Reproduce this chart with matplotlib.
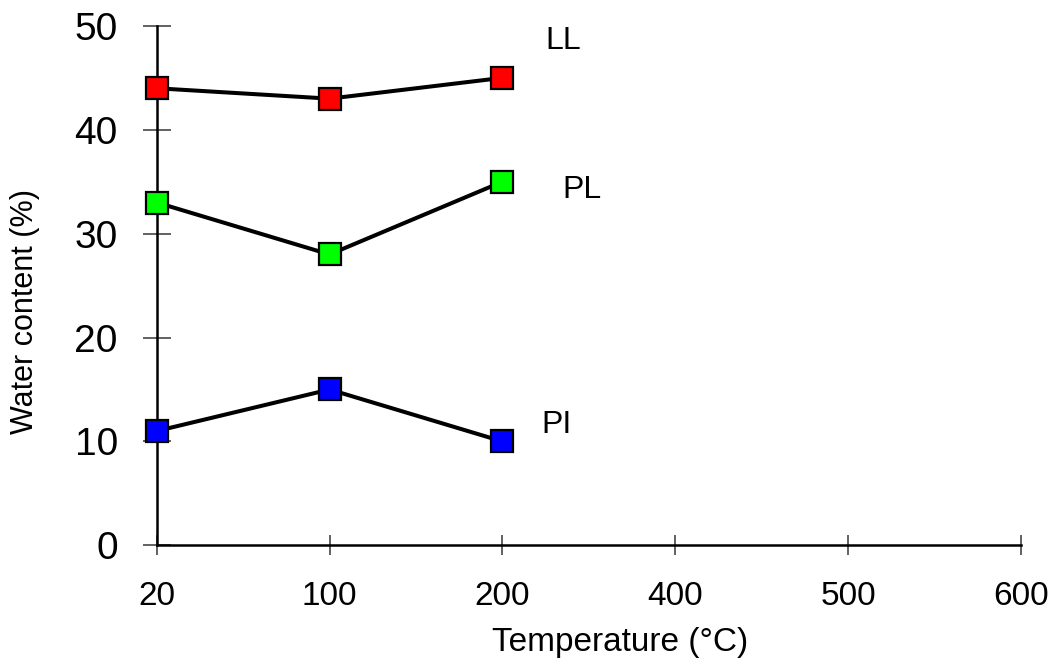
import matplotlib

matplotlib.use("Agg")

import matplotlib.pyplot as plt

plt.rcParams["font.family"] = ["Liberation Sans", "DejaVu Sans"]

temperatures = ["20", "100", "200", "400", "500", "600"]
measured = ["20", "100", "200"]
liquid_limit = [44, 43, 45]
plastic_limit = [33, 28, 35]
plasticity_index = [11, 15, 10]

series = [
    ("LL", liquid_limit, "#ff0000", (2.35, 48.55)),
    ("PL", plastic_limit, "#00ff00", (2.46, 34.2)),
    ("PI", plasticity_index, "#0000ff", (2.315, 11.56)),
]

fig = plt.figure(figsize=(10.59, 6.65), dpi=100)
ax = fig.add_axes([0.148, 0.180, 0.816, 0.781])

xpos = [temperatures.index(t) for t in measured]
for name, values, color, (tx, ty) in series:
    ax.plot(
        xpos,
        values,
        color="black",
        linewidth=2.9,
        marker="s",
        markersize=16,
        markerfacecolor=color,
        markeredgecolor="black",
        markeredgewidth=1.6,
        clip_on=False,
        zorder=3,
    )
    ax.text(tx, ty, name, fontsize=23, ha="center", va="center")

ax.set_xlim(0, len(temperatures) - 1)
ax.set_ylim(0, 50)
ax.set_xticks(range(len(temperatures)))
ax.set_xticklabels(temperatures)
ax.set_yticks(range(0, 51, 10))

for side in ("top", "right"):
    ax.spines[side].set_visible(False)
for side in ("left", "bottom"):
    ax.spines[side].set_linewidth(1.8)

ax.tick_params(axis="y", direction="inout", length=20, width=1.3, color="#555555",
               labelsize=28, pad=18)
ax.tick_params(axis="x", direction="inout", length=14, width=1.3, color="#555555",
               labelsize=24, pad=19)

ax.set_xlabel("Temperature (\u00b0C)", fontsize=24)
ax.set_ylabel("Water content (%)", fontsize=22)
ax.xaxis.set_label_coords(0.536, -0.158)
ax.yaxis.set_label_coords(-0.135, 0.451)

fig.savefig("out.png", dpi=100)
plt.close(fig)
